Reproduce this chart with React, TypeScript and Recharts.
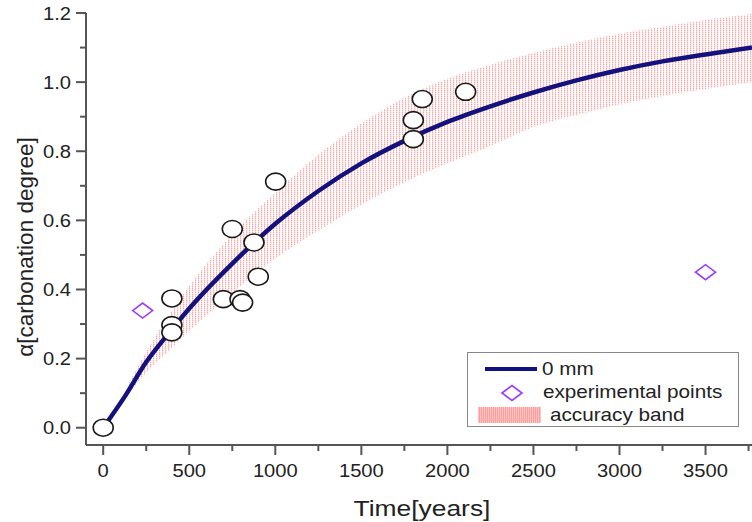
import React from "react";
import {
  ComposedChart,
  XAxis,
  YAxis,
  Line,
  Area,
  Scatter,
  Legend,
} from "recharts";

// ---- Data ----
const curveT = [0, 125, 250, 375, 500, 750, 1000, 1250, 1500, 1750, 2000, 2250, 2500, 2750, 3000, 3250, 3500, 3770];
const curveAlpha = [0, 0.09, 0.19, 0.27, 0.345, 0.475, 0.59, 0.685, 0.765, 0.83, 0.885, 0.93, 0.97, 1.005, 1.035, 1.06, 1.08, 1.1];

const bandT = [150, 250, 375, 500, 750, 1000, 1250, 1500, 1750, 2000, 2250, 2500, 2750, 3000, 3250, 3500, 3770];
const bandLow = [0.1, 0.16, 0.22, 0.28, 0.39, 0.49, 0.57, 0.645, 0.71, 0.765, 0.815, 0.87, 0.905, 0.935, 0.96, 0.98, 1.0];
const bandHigh = [0.13, 0.22, 0.32, 0.41, 0.56, 0.68, 0.79, 0.88, 0.955, 1.01, 1.05, 1.085, 1.115, 1.14, 1.16, 1.18, 1.197];

const circleT = [0, 399, 399, 399, 698, 750, 795, 810, 876, 901, 1002, 1802, 1802, 1854, 2106];
const circleAlpha = [0, 0.374, 0.297, 0.276, 0.372, 0.575, 0.372, 0.362, 0.536, 0.437, 0.712, 0.89, 0.835, 0.951, 0.972];

const diamondT = [229, 3500];
const diamondAlpha = [0.339, 0.45];

const xTicks = [0, 250, 500, 750, 1000, 1250, 1500, 1750, 2000, 2250, 2500, 2750, 3000, 3250, 3500, 3750];
const yTicks = [0, 0.1, 0.2, 0.3, 0.4, 0.5, 0.6, 0.7, 0.8, 0.9, 1.0, 1.1, 1.2];

const curveLabel = "0 mm";
const diamondLabel = "experimental points";
const bandLabel = "accuracy band";
const xTitle = "Time[years]";
const yTitle = "\u03b1[carbonation degree]";

// ---- derived tables ----
const curveData = curveT.map((t, i) => ({ t, a: curveAlpha[i] }));
const bandData = bandT.map((t, i) => ({ t, range: [bandLow[i], bandHigh[i]] }));
const circleData = circleT.map((t, i) => ({ t, a: circleAlpha[i] }));
const diamondData = diamondT.map((t, i) => ({ t, a: diamondAlpha[i] }));

const FONT = "'Liberation Sans', Arial, sans-serif";
const AXIS = "#555";
const TXT = "#222";
const NAVY = "#12127e";
const PURPLE = "#9a3cff";

const XTick = (props: any) => {
  const { x, y, payload } = props;
  const v = payload.value;
  const major = v % 500 === 0;
  return (
    <g transform={`translate(${x},${y})`}>
      <line x1={0} y1={0} x2={0} y2={major ? 10 : 6} stroke={AXIS} strokeWidth={2} />
      {major && (
        <text
          transform="translate(0,32) scale(1.12,1)"
          textAnchor="middle"
          fontFamily={FONT}
          fontSize={18}
          fill={TXT}
        >
          {v}
        </text>
      )}
    </g>
  );
};

const YTick = (props: any) => {
  const { x, y, payload } = props;
  const v = payload.value;
  const major = Math.round(v * 10) % 2 === 0;
  return (
    <g transform={`translate(${x},${y})`}>
      <line x1={0} y1={0} x2={major ? -10 : -6} y2={0} stroke={AXIS} strokeWidth={2} />
      {major && (
        <text
          transform="translate(-15,6.5) scale(1.12,1)"
          textAnchor="end"
          fontFamily={FONT}
          fontSize={18}
          fill={TXT}
        >
          {v.toFixed(1)}
        </text>
      )}
    </g>
  );
};

const Ellipse = (props: any) => {
  const { cx, cy } = props;
  return <ellipse cx={cx} cy={cy} rx={10} ry={8.5} fill="#fff" stroke="#1a1a1a" strokeWidth={1.6} />;
};

const Diamond = (props: any) => {
  const { cx, cy } = props;
  return (
    <path
      d={`M${cx - 10},${cy} L${cx},${cy - 7.5} L${cx + 10},${cy} L${cx},${cy + 7.5} Z`}
      fill="none"
      stroke={PURPLE}
      strokeWidth={1.6}
    />
  );
};

const renderLegend = () => (
  <svg width={272} height={76} style={{ display: "block" }}>
    <defs>
      <pattern id="legendBand" width="2" height="2" patternUnits="userSpaceOnUse">
        <rect x="0" y="0" width="2" height="2" fill="#ffc4c4" />
        <rect x="0" y="0" width="1" height="2" fill="#ff9c9c" />
      </pattern>
    </defs>
    <rect x={0.5} y={0.5} width={271} height={74} fill="#fff" stroke="#888" strokeWidth={1} />
    <line x1={18} y1={17} x2={70} y2={17} stroke={NAVY} strokeWidth={4} />
    <text transform="translate(75,23) scale(1.15,1)" fontFamily={FONT} fontSize={18} fill={TXT}>
      {curveLabel}
    </text>
    <path d="M35,41 L45,33.5 L55,41 L45,48.5 Z" fill="none" stroke={PURPLE} strokeWidth={1.6} />
    <text transform="translate(76,46) scale(1.15,1)" fontFamily={FONT} fontSize={18} fill={TXT}>
      {diamondLabel}
    </text>
    <rect x={11} y={55} width={63} height={16} fill="url(#legendBand)" />
    <text transform="translate(83,69) scale(1.15,1)" fontFamily={FONT} fontSize={18} fill={TXT}>
      {bandLabel}
    </text>
  </svg>
);

export default function App() {
  return (
    <div style={{ position: "absolute", left: 0, top: 0, width: 752, height: 522, background: "#fff" }}>
      <ComposedChart
        width={752}
        height={522}
        margin={{ top: 13, right: 0, bottom: 0, left: 0 }}
      >
        <defs>
          <pattern id="bandPattern" width="3" height="2" patternUnits="userSpaceOnUse">
            <rect x="0" y="0" width="1" height="1" fill="#ff6a6a" fillOpacity={0.6} />
            <rect x="0" y="1" width="1" height="1" fill="#ffa0a0" fillOpacity={0.45} />
            <rect x="1" y="0" width="1" height="1" fill="#ffc8c8" fillOpacity={0.45} />
          </pattern>
        </defs>
        <XAxis
          type="number"
          dataKey="t"
          domain={[-100, 3770]}
          ticks={xTicks}
          interval={0}
          allowDataOverflow
          height={77}
          tickSize={0}
          tickMargin={0}
          tickLine={false}
          axisLine={{ stroke: AXIS, strokeWidth: 2 }}
          tick={<XTick />}
        />
        <YAxis
          type="number"
          dataKey="a"
          domain={[-0.05, 1.2]}
          ticks={yTicks}
          interval={0}
          allowDataOverflow
          width={86}
          tickSize={0}
          tickMargin={0}
          tickLine={false}
          axisLine={{ stroke: AXIS, strokeWidth: 2 }}
          tick={<YTick />}
        />
        <Area
          data={bandData}
          dataKey="range"
          type="monotone"
          stroke="none"
          fill="url(#bandPattern)"
          fillOpacity={1}
          isAnimationActive={false}
          legendType="none"
        />
        <Line
          data={curveData}
          dataKey="a"
          type="monotone"
          stroke={NAVY}
          strokeWidth={4.5}
          dot={false}
          activeDot={false}
          isAnimationActive={false}
        />
        <Scatter data={circleData} dataKey="a" shape={<Ellipse />} isAnimationActive={false} />
        <Scatter data={diamondData} dataKey="a" shape={<Diamond />} isAnimationActive={false} />
        <Legend
          layout="vertical"
          align="center"
          verticalAlign="middle"
          content={renderLegend}
          wrapperStyle={{ position: "absolute", left: 467, top: 352, width: 272, height: 76 }}
        />
      </ComposedChart>
      <svg
        width={752}
        height={522}
        style={{ position: "absolute", left: 0, top: 0, pointerEvents: "none" }}
      >
        <text
          transform="translate(422,516) scale(1.2,1)"
          textAnchor="middle"
          fontFamily={FONT}
          fontSize={22}
          fill={TXT}
        >
          {xTitle}
        </text>
        <text
          transform="translate(33,247) rotate(-90)"
          textAnchor="middle"
          fontFamily={FONT}
          fontSize={22.5}
          fill={TXT}
        >
          {yTitle}
        </text>
      </svg>
    </div>
  );
}
